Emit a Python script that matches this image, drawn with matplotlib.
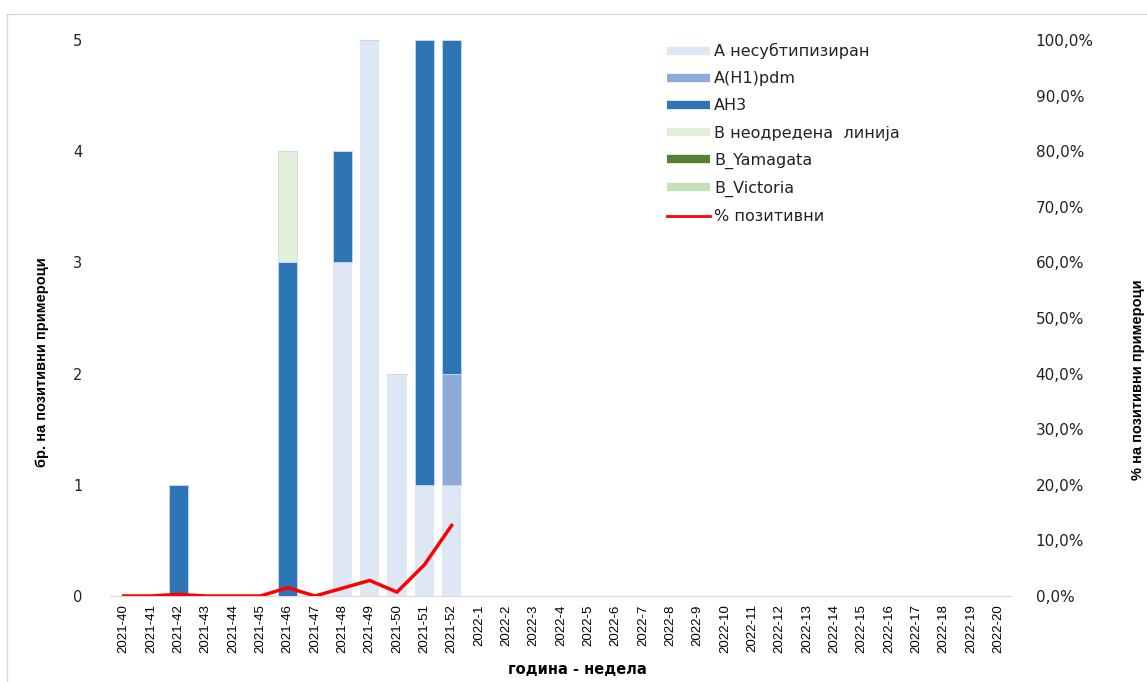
import numpy as np
import matplotlib
matplotlib.use("Agg")
import matplotlib.pyplot as plt
from matplotlib.lines import Line2D
from matplotlib.ticker import FuncFormatter

weeks = [f"2021-{w}" for w in range(40, 53)] + [f"2022-{w}" for w in range(1, 21)]
n = len(weeks)

def series(d):
    v = np.zeros(n)
    for k, val in d.items():
        v[weeks.index(k)] = val
    return v

a_unsub = series({"2021-48": 3, "2021-49": 5, "2021-50": 2, "2021-51": 1, "2021-52": 1})
a_h1pdm = series({"2021-52": 1})
a_h3 = series({"2021-42": 1, "2021-46": 3, "2021-48": 1, "2021-51": 4, "2021-52": 3})
b_undet = series({"2021-46": 1})
b_yam = series({})
b_vic = series({})

pct_positive = [0.0, 0.0, 0.3, 0.0, 0.0, 0.0, 1.5, 0.0, 1.4, 2.8, 0.7, 5.6, 12.7] + [np.nan] * 20

labels = ["А несубтипизиран", "А(H1)pdm", "АH3", "B неодредена  линија",
          "B_Yamagata", "B_Victoria", "% позитивни"]
colors = ["#DEE8F5", "#8EAADB", "#2E75B6", "#E2EFDA", "#548235", "#C5E0B4"]
line_color = "#FF0000"

W, H = 1147, 682
fig = plt.figure(figsize=(W / 100, H / 100), dpi=100)
ax = fig.add_axes([110 / W, 1 - 596 / H, (1012 - 110) / W, (596 - 40) / H])
ax2 = ax.twinx()

x = np.arange(n)
bottom = np.zeros(n)
for vals, c in zip([a_unsub, a_h1pdm, a_h3, b_undet, b_yam, b_vic], colors):
    ax.bar(x, vals, width=0.71, bottom=bottom, color=c, edgecolor="#C9D7EE",
           linewidth=0.6 if c != colors[0] else 0, zorder=2)
    bottom += vals

ax2.plot(x, pct_positive, color=line_color, lw=2.5, zorder=5, solid_joinstyle="round")

ax.set_xlim(-0.5, n - 0.5)
ax.set_ylim(0, 5)
ax2.set_ylim(0, 100)
ax.set_yticks(range(0, 6))
ax2.set_yticks(range(0, 101, 10))
ax2.yaxis.set_major_formatter(FuncFormatter(lambda v, p: f"{v:.1f}%".replace(".", ",")))

for a in (ax, ax2):
    for s in ("top", "left", "right"):
        a.spines[s].set_visible(False)
    a.spines["bottom"].set_color("#D9D9D9")
ax2.spines["bottom"].set_visible(False)
ax.tick_params(axis="y", length=0, pad=20, labelsize=10.5, labelcolor="#222222")
ax2.tick_params(axis="y", length=0, pad=17, labelsize=11, labelcolor="#222222")
ax.set_xticks(x)
ax.set_xticklabels(weeks, rotation=90, fontsize=9.5, family="Liberation Sans")
ax.tick_params(axis="x", length=0, pad=6)

fig.text(577 / W, 1 - 670 / H, "година - недела", ha="center", va="center",
         fontsize=10.5, fontweight="bold")
fig.text(42 / W, 1 - 362 / H, "бр. на позитивни примероци", rotation=90,
         ha="center", va="center", fontsize=10.5, fontweight="bold",
         family="Liberation Sans")
fig.text(1138 / W, 1 - 380 / H, "% на позитивни примероци", rotation=90,
         ha="center", va="center", fontsize=10.5, fontweight="bold",
         family="Liberation Sans")

handles = [Line2D([0], [0], color=c, lw=6, solid_capstyle="butt") for c in colors]
handles.append(Line2D([0], [0], color=line_color, lw=2))
leg = ax2.legend(handles, labels, loc="upper left",
                 bbox_to_anchor=(667 / W, 1 - 43 / H), bbox_transform=fig.transFigure,
                 frameon=False, fontsize=11.5, handlelength=2.7, handletextpad=0.25,
                 labelspacing=0.76, borderpad=0, borderaxespad=0)
for t in leg.get_texts():
    t.set_color("#222222")

# chart-area border (top and left)
fig.add_artist(Line2D([7 / W, 1.0], [1 - 14 / H] * 2, transform=fig.transFigure,
                      color="#D9D9D9", lw=1))
fig.add_artist(Line2D([7 / W] * 2, [1 - 14 / H, 0], transform=fig.transFigure,
                      color="#D9D9D9", lw=1))

fig.savefig("out.png", dpi=100)
